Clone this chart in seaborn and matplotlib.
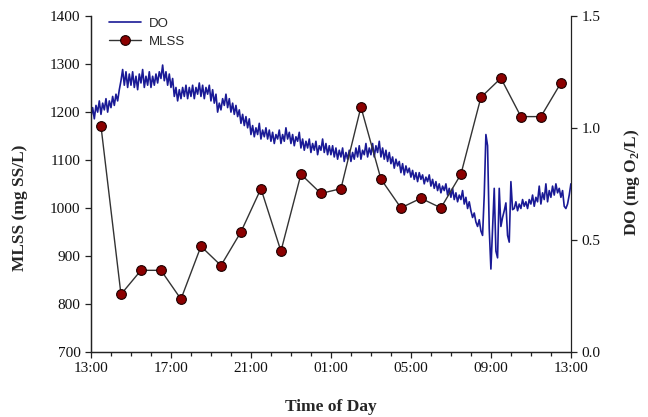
import numpy as np
import pandas as pd
import matplotlib
matplotlib.use("Agg")
import matplotlib.pyplot as plt
import seaborn as sns

# ---------------- data ----------------
tick_hours = [0, 4, 8, 12, 16, 20, 24]
tick_labels = ["13:00", "17:00", "21:00", "01:00", "05:00", "09:00", "13:00"]

# MLSS samples (hours after 13:00)
mlss_hours = [0.5, 1.5, 2.5, 3.5, 4.5, 5.5, 6.5, 7.5, 8.5, 9.5, 10.5, 11.5,
              12.5, 13.5, 14.5, 15.5, 16.5, 17.5, 18.5, 19.5, 20.5, 21.5, 22.5, 23.5]
mlss = [1170, 820, 870, 870, 810, 920, 880, 950, 1040, 910, 1070, 1030,
        1040, 1210, 1060, 1000, 1020, 1000, 1070, 1230, 1270, 1190, 1190, 1260]

# DO readings every 5 minutes from 13:00 (one row per hour)
do_values = [
    1.05, 1.09, 1.04, 1.10, 1.07, 1.12, 1.06, 1.11, 1.08, 1.13, 1.07, 1.12,
    1.09, 1.14, 1.10, 1.15, 1.12, 1.17, 1.21, 1.26, 1.19, 1.25, 1.18, 1.24,
    1.19, 1.25, 1.18, 1.23, 1.17, 1.24, 1.20, 1.26, 1.18, 1.23, 1.19, 1.25,
    1.18, 1.23, 1.19, 1.24, 1.20, 1.25, 1.22, 1.28, 1.21, 1.25, 1.19, 1.24,
    1.18, 1.22, 1.14, 1.18, 1.12, 1.17, 1.13, 1.18, 1.14, 1.19, 1.13, 1.18,
    1.14, 1.19, 1.13, 1.18, 1.15, 1.20, 1.14, 1.19, 1.13, 1.18, 1.15, 1.19,
    1.12, 1.17, 1.11, 1.15, 1.07, 1.11, 1.08, 1.13, 1.10, 1.15, 1.09, 1.13,
    1.07, 1.11, 1.06, 1.10, 1.05, 1.08, 1.02, 1.06, 1.01, 1.05, 1.00, 1.04,
    0.97, 1.01, 0.96, 1.00, 0.97, 1.02, 0.95, 0.99, 0.96, 1.00, 0.95, 0.99,
    0.94, 0.98, 0.93, 0.97, 0.95, 0.99, 0.93, 0.97, 0.94, 1.00, 0.95, 0.98,
    0.93, 0.97, 0.92, 0.96, 0.94, 0.98, 0.91, 0.95, 0.90, 0.94, 0.91, 0.95,
    0.89, 0.93, 0.90, 0.94, 0.88, 0.92, 0.90, 0.95, 0.89, 0.93, 0.88, 0.92,
    0.88, 0.92, 0.87, 0.91, 0.86, 0.90, 0.87, 0.91, 0.85, 0.89, 0.86, 0.90,
    0.85, 0.89, 0.86, 0.91, 0.87, 0.92, 0.86, 0.90, 0.88, 0.93, 0.87, 0.91,
    0.88, 0.93, 0.87, 0.92, 0.89, 0.94, 0.87, 0.91, 0.86, 0.90, 0.85, 0.89,
    0.84, 0.87, 0.82, 0.86, 0.83, 0.85, 0.80, 0.84, 0.79, 0.83, 0.80, 0.82,
    0.78, 0.81, 0.77, 0.80, 0.76, 0.80, 0.77, 0.79, 0.75, 0.78, 0.76, 0.79,
    0.74, 0.77, 0.73, 0.76, 0.72, 0.75, 0.71, 0.74, 0.72, 0.75, 0.70, 0.73,
    0.69, 0.73, 0.68, 0.71, 0.67, 0.70, 0.68, 0.72, 0.66, 0.69, 0.64, 0.67,
    0.63, 0.60, 0.62, 0.58, 0.56, 0.59, 0.54, 0.52, 0.70, 0.97, 0.92, 0.55,
    0.37, 0.55, 0.73, 0.45, 0.42, 0.73, 0.56, 0.60, 0.63, 0.665, 0.52, 0.49,
    0.76, 0.635, 0.64, 0.67, 0.63, 0.66, 0.64, 0.68, 0.65, 0.67, 0.64, 0.68,
    0.66, 0.70, 0.65, 0.69, 0.67, 0.74, 0.66, 0.71, 0.68, 0.75, 0.67, 0.72,
    0.69, 0.74, 0.70, 0.75, 0.71, 0.73, 0.69, 0.72, 0.65, 0.64, 0.66, 0.70,
    0.75,
]
do_hours = np.arange(len(do_values)) / 12.0

df_mlss = pd.DataFrame({"hour": mlss_hours, "MLSS": mlss})
df_do = pd.DataFrame({"hour": do_hours, "DO": do_values})

# ---------------- style ----------------
sns.set_style("ticks")
plt.rcParams["font.family"] = ["Liberation Serif", "DejaVu Serif"]
plt.rcParams["mathtext.fontset"] = "custom"
plt.rcParams["mathtext.rm"] = "Liberation Serif"
plt.rcParams["mathtext.bf"] = "Liberation Serif:bold"

fig = plt.figure(figsize=(6.48, 4.17), dpi=100)
ax = fig.add_axes([0.1404, 0.1559, 0.7406, 0.8064])
ax2 = ax.twinx()

spine_col = "#222222"

sns.lineplot(data=df_do, x="hour", y="DO", ax=ax2, color="#1a1a96",
             linewidth=1.2, estimator=None, sort=False, label="DO", legend=False)
sns.lineplot(data=df_mlss, x="hour", y="MLSS", ax=ax, color="#333333",
             linewidth=1.0, marker="o", markersize=7, markerfacecolor="#8b0000",
             markeredgecolor="#1a0000", markeredgewidth=0.8,
             estimator=None, label="MLSS", legend=False)

ax.set_zorder(ax2.get_zorder() + 1)
ax.patch.set_visible(False)

ax.set_xlim(0, 24)
ax.set_ylim(700, 1400)
ax2.set_ylim(0, 1.5)
ax.set_xticks(tick_hours)
ax.set_xticklabels(tick_labels)
ax.set_xticks(range(25), minor=True)
ax.set_yticks(range(700, 1401, 100))
ax2.set_yticks([0.0, 0.5, 1.0, 1.5])
ax2.set_yticklabels(["0.0", "0.5", "1.0", "1.5"])

for a in (ax, ax2):
    a.spines["top"].set_visible(False)
    for s in a.spines.values():
        s.set_color(spine_col)
        s.set_linewidth(0.9)
    a.tick_params(axis="both", which="both", direction="out", color=spine_col,
                  width=0.9, labelsize=11, labelcolor="#111111")
    a.tick_params(axis="both", which="major", length=4.5, pad=3)
    a.tick_params(axis="both", which="minor", length=3)
ax.spines["right"].set_visible(False)

ax.set_xlabel("Time of Day", fontsize=12.5, fontweight="bold")
ax.xaxis.set_label_coords(0.5, -0.164)
ax.xaxis.label.set_va("center")
ax.set_ylabel("MLSS (mg SS/L)", fontsize=12.5, fontweight="bold")
ax.yaxis.set_label_coords(-0.148, 0.428)
ax.yaxis.label.set_va("center")
ax.yaxis.label.set_ha("center")
ax2.set_ylabel(r"DO (mg O$_\mathbf{2}$/L)", fontsize=12.5, fontweight="bold")
ax2.yaxis.set_label_coords(1.127, 0.504)
ax2.yaxis.label.set_va("center")
ax2.yaxis.label.set_ha("center")

h1, l1 = ax2.get_legend_handles_labels()
h2, l2 = ax.get_legend_handles_labels()
ax.legend(h1 + h2, l1 + l2, loc="upper left", bbox_to_anchor=(0.013, 1.03),
          frameon=False, prop={"family": "Liberation Sans", "size": 9.5},
          handlelength=2.4, handletextpad=0.6, labelspacing=0.45)

fig.savefig("out.png", dpi=100)
